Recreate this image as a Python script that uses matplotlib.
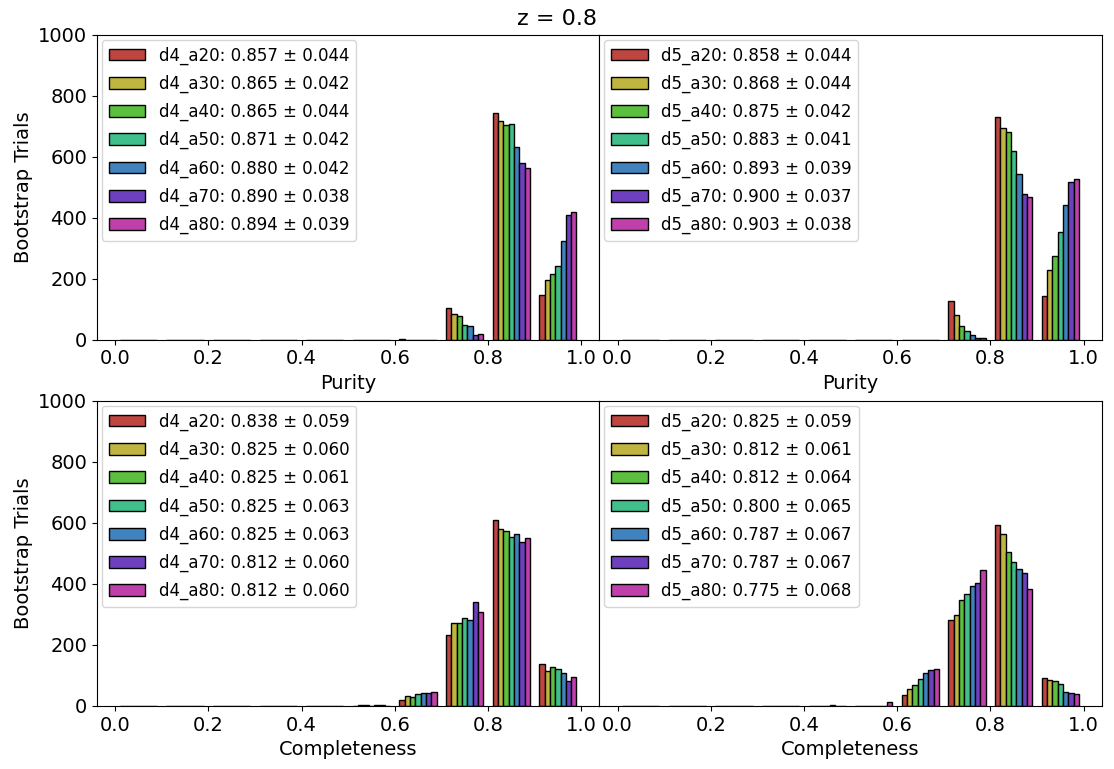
import matplotlib.pyplot as plt
import numpy as np

# histogram bins (bootstrap value of purity / completeness)
bin_edges = np.linspace(0.0, 1.0, 11)
bin_centers = 0.5 * (bin_edges[:-1] + bin_edges[1:])

series_names = ['a20', 'a30', 'a40', 'a50', 'a60', 'a70', 'a80']

# counts per bin (0.0-0.1 ... 0.9-1.0), 1000 bootstrap trials each
d4_purity = [
    [0, 0, 0, 0, 0, 0, 3, 105, 744, 148],
    [0, 0, 0, 0, 0, 0, 0, 85, 718, 197],
    [0, 0, 0, 0, 0, 0, 0, 78, 705, 217],
    [0, 0, 0, 0, 0, 0, 0, 49, 708, 243],
    [0, 0, 0, 0, 0, 0, 0, 46, 632, 322],
    [0, 0, 0, 0, 0, 0, 0, 14, 578, 408],
    [0, 0, 0, 0, 0, 0, 0, 20, 562, 418],
]
d5_purity = [
    [0, 0, 0, 0, 0, 0, 0, 126, 729, 145],
    [0, 0, 0, 0, 0, 0, 0, 80, 693, 227],
    [0, 0, 0, 0, 0, 0, 0, 44, 680, 276],
    [0, 0, 0, 0, 0, 0, 0, 28, 620, 352],
    [0, 0, 0, 0, 0, 0, 0, 15, 542, 443],
    [0, 0, 0, 0, 0, 0, 0, 6, 477, 517],
    [0, 0, 0, 0, 0, 0, 0, 5, 469, 526],
]
d4_completeness = [
    [0, 0, 0, 0, 0, 0, 19, 233, 609, 139],
    [0, 0, 0, 0, 0, 2, 32, 271, 579, 116],
    [0, 0, 0, 0, 0, 2, 28, 271, 573, 126],
    [0, 0, 0, 0, 0, 1, 38, 287, 552, 122],
    [0, 0, 0, 0, 0, 2, 44, 283, 562, 109],
    [0, 0, 0, 0, 0, 2, 41, 339, 537, 81],
    [0, 0, 0, 0, 0, 0, 47, 309, 550, 94],
]
d5_completeness = [
    [0, 0, 0, 0, 0, 0, 35, 280, 594, 91],
    [0, 0, 0, 0, 0, 1, 54, 299, 562, 84],
    [0, 0, 0, 0, 0, 1, 68, 347, 503, 81],
    [0, 0, 0, 0, 0, 1, 88, 366, 473, 72],
    [0, 0, 0, 0, 3, 1, 107, 392, 450, 47],
    [0, 0, 0, 0, 0, 1, 118, 403, 436, 42],
    [0, 0, 0, 0, 0, 12, 122, 444, 383, 39],
]

# legend stats (mean +- std)
d4_purity_stats = [(0.857, 0.044), (0.865, 0.042), (0.865, 0.044), (0.871, 0.042),
                   (0.880, 0.042), (0.890, 0.038), (0.894, 0.039)]
d5_purity_stats = [(0.858, 0.044), (0.868, 0.044), (0.875, 0.042), (0.883, 0.041),
                   (0.893, 0.039), (0.900, 0.037), (0.903, 0.038)]
d4_compl_stats = [(0.838, 0.059), (0.825, 0.060), (0.825, 0.061), (0.825, 0.063),
                  (0.825, 0.063), (0.812, 0.060), (0.812, 0.060)]
d5_compl_stats = [(0.825, 0.059), (0.812, 0.061), (0.812, 0.064), (0.800, 0.065),
                  (0.787, 0.067), (0.787, 0.067), (0.775, 0.068)]

colors = ['#bf4540', '#bfb540', '#5cbf40', '#40bf8a', '#4083bf', '#6e40bf', '#bf40aa']

fig, axes = plt.subplots(2, 2, figsize=(11.14, 7.69), sharey=True)
fig.subplots_adjust(left=0.087, right=0.989, top=0.955, bottom=0.082,
                    wspace=0.0, hspace=0.2)

panels = [
    (axes[0, 0], d4_purity, d4_purity_stats, 'd4', 'Purity'),
    (axes[0, 1], d5_purity, d5_purity_stats, 'd5', 'Purity'),
    (axes[1, 0], d4_completeness, d4_compl_stats, 'd4', 'Completeness'),
    (axes[1, 1], d5_completeness, d5_compl_stats, 'd5', 'Completeness'),
]

for ax, counts, stats, prefix, xlabel in panels:
    labels = [f'{prefix}_{s}: {m:.3f} ± {e:.3f}' for s, (m, e) in zip(series_names, stats)]
    ax.hist([bin_centers] * len(counts), bins=bin_edges, weights=counts,
            color=colors, edgecolor='black', linewidth=1.0, label=labels)
    ax.set_ylim(0, 1000)
    ax.set_xticks([0.0, 0.2, 0.4, 0.6, 0.8, 1.0])
    ax.set_xlabel(xlabel, fontsize=14)
    ax.tick_params(labelsize=14)
    ax.legend(loc='upper left', fontsize=12, borderaxespad=0.3,
              labelspacing=0.6, handlelength=2.2)

for ax in axes[:, 0]:
    ax.set_ylabel('Bootstrap Trials', fontsize=14)
    ax.set_yticks([0, 200, 400, 600, 800, 1000])
for ax in axes[:, 1]:
    ax.tick_params(axis='y', left=False, labelleft=False)

fig.suptitle('z = 0.8', fontsize=16, y=0.988)

plt.savefig('out.png', dpi=100)
